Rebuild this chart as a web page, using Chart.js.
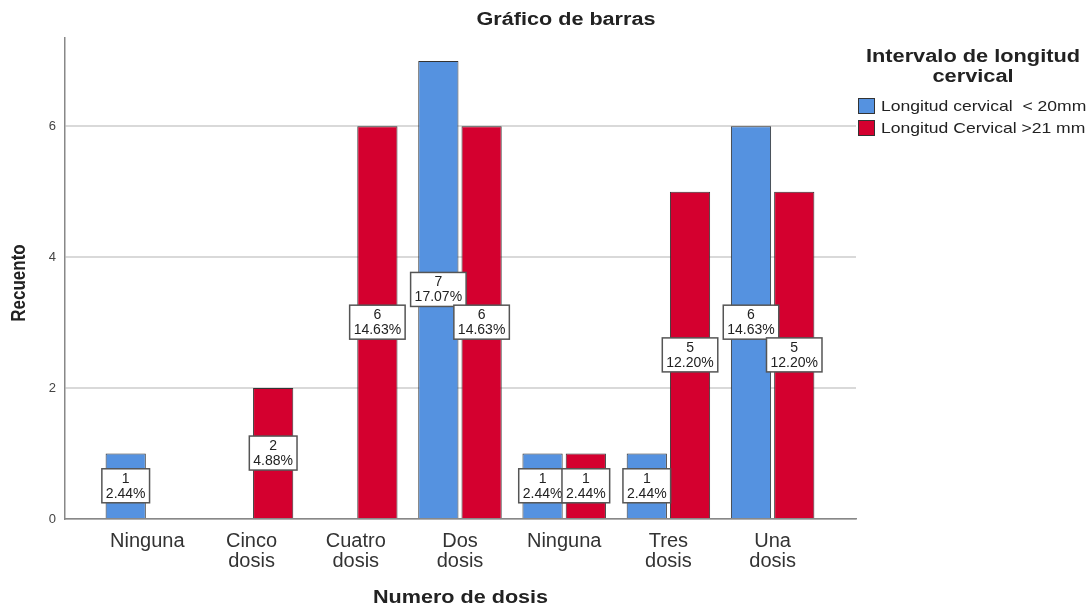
<!DOCTYPE html>
<html>
<head>
<meta charset="utf-8">
<script src="https://cdn.jsdelivr.net/npm/chart.js@4/dist/chart.umd.min.js"></script>
<style>
html,body{margin:0;padding:0;background:#fff;}
#wrap{width:1091px;height:608px;}
</style>
</head>
<body>
<div id="wrap"><canvas id="c" width="1091" height="608"></canvas></div>
<script>
const categories = ["Ninguna", "Cinco dosis", "Cuatro dosis", "Dos dosis", "Ninguna", "Tres dosis", "Una dosis"];
const tickLabels = [["Ninguna"], ["Cinco", "dosis"], ["Cuatro", "dosis"], ["Dos", "dosis"], ["Ninguna"], ["Tres", "dosis"], ["Una", "dosis"]];
const seriesNames = ["Longitud cervical  < 20mm", "Longitud Cervical >21 mm"];
const shortCervix = [1, null, null, 7, 1, 1, 6];
const longCervix = [null, 2, 6, 6, 1, 5, 5];
const yTicks = [0, 2, 4, 6];
const totalCount = 41;
const chartTitle = 'Gráfico de barras';
const xTitle = 'Numero de dosis';
const yTitle = 'Recuento';
const legendTitle = ['Intervalo de longitud', 'cervical'];

const FONT = "'Liberation Sans', Arial, sans-serif";
const toPoints = arr => arr.map((v, i) => ({x: i, y: v})).filter(p => p.y !== null);

function drawText(ctx, text, x, y, font, sx, align, rot) {
  ctx.save();
  ctx.translate(x, y);
  if (rot) ctx.rotate(rot);
  if (rot) ctx.scale(1, sx); else ctx.scale(sx, 1);
  ctx.font = font;
  ctx.textAlign = align || 'center';
  ctx.textBaseline = 'middle';
  ctx.fillStyle = '#222';
  ctx.fillText(text, 0, 0);
  ctx.restore();
}

const textPlugin = {
  id: 'customTexts',
  afterDraw(chart) {
    const ctx = chart.ctx;
    const ca = chart.chartArea;
    drawText(ctx, chartTitle, 566, 20, 'bold 18px ' + FONT, 1.2);
    drawText(ctx, xTitle, (ca.left + ca.right) / 2, 598, 'bold 18px ' + FONT, 1.2);
    drawText(ctx, yTitle, 20, 283, 'bold 17px ' + FONT, 1.15, 'center', -Math.PI / 2);
    const left = ca.right;
    drawText(ctx, legendTitle[0], left + 117, 57, 'bold 18px ' + FONT, 1.21);
    drawText(ctx, legendTitle[1], left + 117, 77, 'bold 18px ' + FONT, 1.21);
    chart.data.datasets.forEach((ds, i) => {
      const y = 106 + i * 22;
      ctx.save();
      ctx.fillStyle = ds.backgroundColor;
      ctx.fillRect(left + 2, y - 8, 17, 16);
      ctx.strokeStyle = '#333';
      ctx.lineWidth = 1;
      ctx.strokeRect(left + 2.5, y - 7.5, 16, 15);
      ctx.restore();
      drawText(ctx, ds.label, left + 25, y + 1, '15px ' + FONT, 1.17, 'left');
    });
  }
};

const labelPlugin = {
  id: 'barLabels',
  afterDatasetsDraw(chart) {
    const ctx = chart.ctx;
    ctx.save();
    ctx.font = '14px ' + FONT;
    ctx.textAlign = 'center';
    ctx.textBaseline = 'middle';
    chart.data.datasets.forEach((ds, di) => {
      const meta = chart.getDatasetMeta(di);
      meta.data.forEach((el, j) => {
        const v = ds.data[j].y;
        const l1 = String(v);
        const l2 = (v / totalCount * 100).toFixed(2) + '%';
        const cx = el.x;
        const cy = (el.y + el.base) / 2;
        const w = Math.max(ctx.measureText(l1).width, ctx.measureText(l2).width) + 8;
        const h = 34;
        ctx.fillStyle = '#fff';
        ctx.fillRect(cx - w / 2, cy - h / 2, w, h);
        ctx.strokeStyle = '#555';
        ctx.lineWidth = 1.5;
        ctx.strokeRect(cx - w / 2, cy - h / 2, w, h);
        ctx.fillStyle = '#222';
        ctx.fillText(l1, cx, cy - 7);
        ctx.fillText(l2, cx, cy + 8);
      });
    });
    ctx.restore();
  }
};

new Chart(document.getElementById('c'), {
  type: 'bar',
  data: {
    datasets: [
      {label: seriesNames[0], data: toPoints(shortCervix), backgroundColor: '#5592e0', borderColor: '#333', borderWidth: 1},
      {label: seriesNames[1], data: toPoints(longCervix), backgroundColor: '#d4002f', borderColor: '#333', borderWidth: 1}
    ]
  },
  options: {
    responsive: false,
    animation: false,
    categoryPercentage: 0.83,
    barPercentage: 0.93,
    layout: {padding: {top: 38, right: 235, bottom: 0, left: 0}},
    plugins: {legend: {display: false}, tooltip: {enabled: false}, title: {display: false}},
    scales: {
      x: {
        type: 'linear',
        offset: false,
        min: -0.79,
        max: 6.8,
        afterFit(s) { s.height = 89; },
        afterBuildTicks(s) { s.ticks = categories.map((_, i) => ({value: i})); },
        grid: {display: false, drawTicks: false, offset: false},
        border: {display: true, color: '#888', width: 1.5},
        ticks: {
          autoSkip: false, maxRotation: 0, padding: 12,
          color: '#333', font: {family: FONT, size: 20, lineHeight: 1.0},
          callback: v => tickLabels[v]
        },
        title: {display: false}
      },
      y: {
        min: 0,
        max: 7.35,
        afterFit(s) { s.width = 65; },
        afterBuildTicks(s) { s.ticks = yTicks.map(v => ({value: v})); },
        grid: {color: '#d9d9d9', lineWidth: 2, drawTicks: false},
        border: {display: true, color: '#888', width: 1.5},
        ticks: {padding: 9, color: '#444', font: {family: FONT, size: 13}},
        title: {display: false}
      }
    }
  },
  plugins: [textPlugin, labelPlugin]
});
</script>
</body>
</html>
